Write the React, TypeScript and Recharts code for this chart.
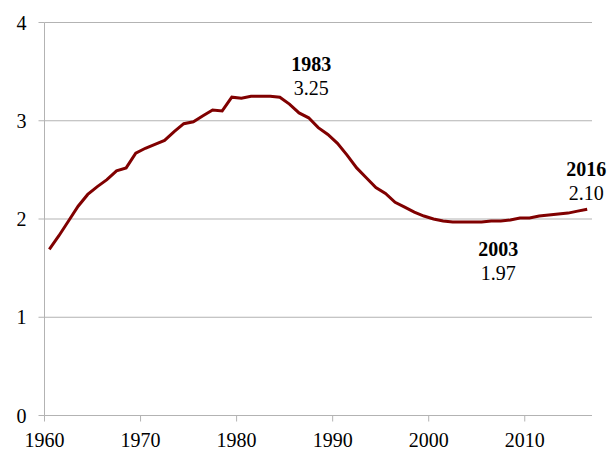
import { CartesianGrid, Line, LineChart, XAxis, YAxis } from "recharts";

const years = [
  1960, 1961, 1962, 1963, 1964, 1965, 1966, 1967, 1968, 1969,
  1970, 1971, 1972, 1973, 1974, 1975, 1976, 1977, 1978, 1979,
  1980, 1981, 1982, 1983, 1984, 1985, 1986, 1987, 1988, 1989,
  1990, 1991, 1992, 1993, 1994, 1995, 1996, 1997, 1998, 1999,
  2000, 2001, 2002, 2003, 2004, 2005, 2006, 2007, 2008, 2009,
  2010, 2011, 2012, 2013, 2014, 2015, 2016,
];

const values = [
  1.69, 1.83, 1.98, 2.13, 2.25, 2.33, 2.4, 2.49, 2.52, 2.67,
  2.72, 2.76, 2.8, 2.89, 2.97, 2.99, 3.05, 3.11, 3.1, 3.24,
  3.23, 3.25, 3.25, 3.25, 3.24, 3.17, 3.08, 3.03, 2.93, 2.86,
  2.77, 2.65, 2.52, 2.42, 2.32, 2.26, 2.17, 2.12, 2.07, 2.03,
  2.0, 1.98, 1.97, 1.97, 1.97, 1.97, 1.98, 1.98, 1.99, 2.01,
  2.01, 2.03, 2.04, 2.05, 2.06, 2.08, 2.1,
];

const xTickYears = [1960, 1970, 1980, 1990, 2000, 2010];
const yTicks = [0, 1, 2, 3, 4];
const annotatedYears = [1983, 2003, 2016];

const data = years.map((year, i) => ({ year, value: values[i] }));

// where each annotation sits relative to its point (px)
const labelPlacement: Record<number, { dx: number; dy: number }> = {
  1983: { dx: 41, dy: -25 },
  2003: { dx: 36, dy: 34 },
  2016: { dx: -1, dy: -33 },
};

const FONT = "'Liberation Serif', 'Times New Roman', serif";
const GRAY = "#b3b3b3";

function renderAnnotation(props: any) {
  const { x, y, index, value } = props;
  const year = years[index];
  if (!annotatedYears.includes(year)) return null;
  const p = labelPlacement[year];
  return (
    <g key={`ann-${year}`} fontFamily={FONT} fontSize={20} fill="#000">
      <text x={x + p.dx} y={y + p.dy} textAnchor="middle" fontWeight="bold">
        {year}
      </text>
      <text x={x + p.dx} y={y + p.dy + 24} textAnchor="middle">
        {Number(value).toFixed(2)}
      </text>
    </g>
  );
}

export default function App() {
  return (
    <div style={{ width: 609, height: 449, background: "#fff" }}>
      <style>{`body{margin:0}`}</style>
      <LineChart
        width={609}
        height={449}
        data={data}
        margin={{ top: 22.5, right: 17, left: 0.5, bottom: 0 }}
      >
        <CartesianGrid vertical={false} stroke={GRAY} />
        <XAxis
          dataKey="year"
          type="number"
          domain={[1959.5, 2016.5]}
          ticks={xTickYears.map((y) => y - 0.5)}
          tickFormatter={(v: number) => String(v + 0.5)}
          interval={0}
          height={33.5}
          tickSize={6}
          tickMargin={11}
          axisLine={{ stroke: GRAY }}
          tickLine={{ stroke: GRAY }}
          tick={{ fill: "#000", fontSize: 20, fontFamily: FONT }}
        />
        <YAxis
          domain={[0, 4]}
          ticks={yTicks}
          width={44}
          tickSize={6}
          tickMargin={12}
          axisLine={{ stroke: GRAY }}
          tickLine={{ stroke: GRAY }}
          tick={{ fill: "#000", fontSize: 20, fontFamily: FONT }}
        />
        <Line
          type="linear"
          dataKey="value"
          stroke="#800000"
          strokeWidth={3}
          dot={false}
          isAnimationActive={false}
          label={renderAnnotation}
        />
      </LineChart>
    </div>
  );
}
